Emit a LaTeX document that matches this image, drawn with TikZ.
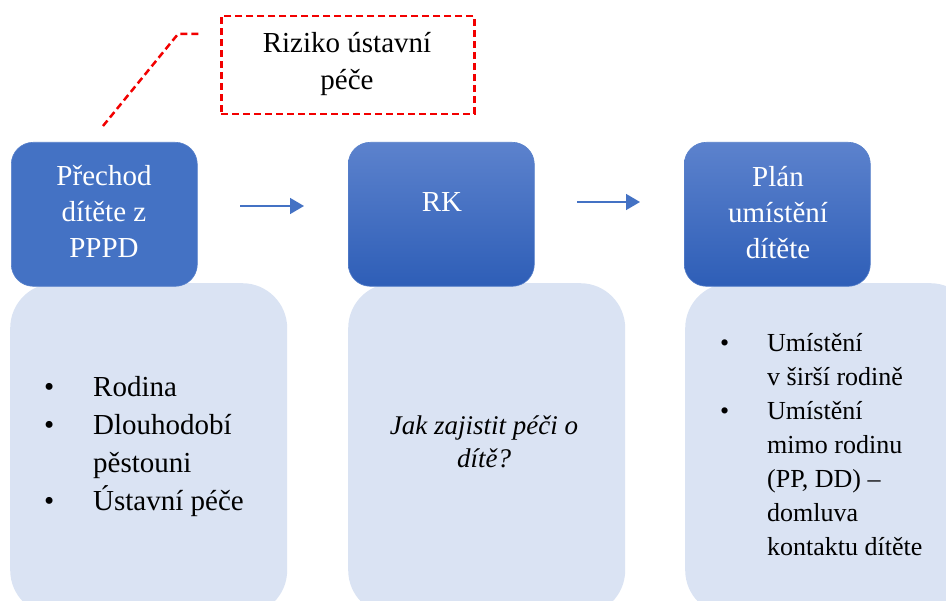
\documentclass[tikz,border=0pt]{standalone}
\usepackage{fontspec}
\newfontfamily\tms{Liberation Serif}
\usetikzlibrary{arrows.meta}
\definecolor{dkblue}{HTML}{4472C4}
\definecolor{gradtop}{HTML}{5C82CD}
\definecolor{gradbot}{HTML}{2E5EB7}
\definecolor{ltblue}{HTML}{DAE3F3}
\definecolor{rdash}{HTML}{F20000}
\tikzset{
  lightbox/.style={fill=ltblue, draw=none, rounded corners=45pt, minimum width=277pt, minimum height=332pt, anchor=north west, inner sep=0pt},
  darkbox/.style={draw=dkblue!90!white, line width=0.6pt, rounded corners=22pt, minimum width=186pt, minimum height=144pt, anchor=north west, inner sep=0pt},
  gradbox/.style={darkbox, top color=gradtop, bottom color=gradbot},
  flatbox/.style={darkbox, fill=dkblue},
  wtext/.style={text=white, inner sep=0pt, anchor=base, font=\fontsize{29}{36}\selectfont\tms},
  btext/.style={text=black, inner sep=0pt, anchor=base west},
  flowarrow/.style={draw=dkblue, line width=1.6pt, -{Triangle[length=14pt,width=16pt]}},
  reddash/.style={draw=rdash, line width=2.5pt, dash pattern=on 7pt off 4pt},
}
\begin{document}
\begin{tikzpicture}[x=1pt,y=-1pt]
\useasboundingbox (0,0) rectangle (946,601);
\begin{scope}
\clip (0,0) rectangle (946,601);
% light boxes
\node[lightbox] (L1) at (10,283) {};
\node[lightbox] (L2) at (348,283) {};
\node[lightbox, minimum width=290pt] (L3) at (685,283) {};
\end{scope}
% dark boxes
\node[flatbox] (D1) at (11,142) {};
\node[gradbox] (D2) at (348,142) {};
\node[gradbox] (D3) at (684,142) {};
% dark box texts
\node[wtext] (T1) at (104,186) {\begin{tabular}[t]{@{}c@{}}Přechod\\dítěte z\\PPPD\end{tabular}};
\node[wtext] (T2) at (442,212) {RK};
\node[wtext] (T3) at (778,187) {\begin{tabular}[t]{@{}c@{}}Plán\\umístění\\dítěte\end{tabular}};
% arrows
\coordinate (a1s) at (240,206);
\coordinate (a1e) at (304,206);
\coordinate (a2s) at (577,202);
\coordinate (a2e) at (640,202);
\draw[flowarrow] (a1s) -- (a1e);
\draw[flowarrow] (a2s) -- (a2e);
% red callout
\node[draw=rdash, line width=2.5pt, dash pattern=on 7pt off 4pt, minimum width=253pt, minimum height=98pt, anchor=north west, inner sep=0pt] (R) at (220,15) {};
\node[inner sep=0pt, anchor=base, font=\fontsize{29}{37}\selectfont\tms] (RT) at (347,53) {\begin{tabular}[t]{@{}c@{}}Riziko ústavní\\péče\end{tabular}};
\coordinate (r1) at (103,126);
\coordinate (r2) at (178,34);
\coordinate (r3) at (200,34);
\draw[reddash] (r1) -- (r2) -- (r3);
% list 1
\node[btext, font=\fontsize{29}{38}\selectfont\tms] (B1) at (44,397) {\begin{tabular}[t]{@{}p{49pt}@{}l@{}}\textbullet & Rodina\\ \textbullet & Dlouhodobí\\ & pěstouni\\ \textbullet & Ústavní péče\end{tabular}};
% middle text
\node[inner sep=0pt, anchor=base, font=\fontsize{27}{33}\selectfont\tms\itshape] (M) at (484,435) {\begin{tabular}[t]{@{}c@{}}Jak zajistit péči o\\dítě?\end{tabular}};
% list 3
\node[btext, font=\fontsize{26}{34}\selectfont\tms] (B3) at (720,352) {\begin{tabular}[t]{@{}p{47pt}@{}l@{}}\textbullet & Umístění\\ & v širší rodině\\ \textbullet & Umístění\\ & mimo rodinu\\ & (PP, DD) –\\ & domluva\\ & kontaktu dítěte\end{tabular}};
\end{tikzpicture}
\end{document}
